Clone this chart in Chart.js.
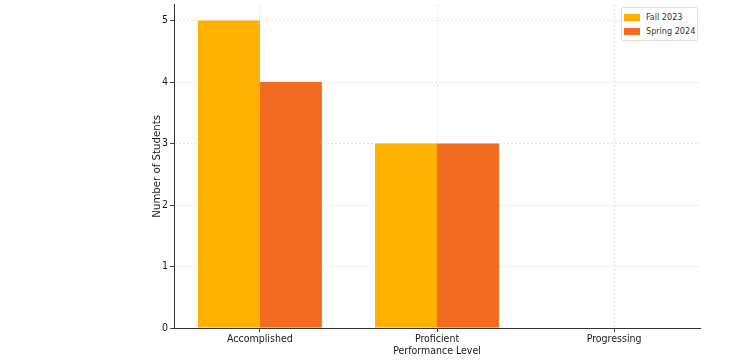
<!DOCTYPE html>
<html>
<head>
<meta charset="utf-8">
<script src="https://cdn.jsdelivr.net/npm/chart.js@4.4.1/dist/chart.umd.min.js"></script>
<style>
  body { margin: 0; background: #fff; }
  #wrap { position: relative; width: 746px; height: 360px; }
  #legend {
    position: absolute; left: 621px; top: 7px;
    border: 1px solid #ddd; border-radius: 2px; background: #fff;
    padding: 2px 2px 2px 2px;
    font: 9px "DejaVu Sans Condensed", "DejaVu Sans", sans-serif; color: #333;
  }
  #legend div { display: flex; align-items: center; height: 14px; }
  #legend span.sw { width: 16px; height: 7px; margin-right: 6px; display: inline-block; }
</style>
</head>
<body>
<div id="wrap">
  <canvas id="myChart" width="746" height="360"></canvas>
  <div id="legend"></div>
</div>
<script>
const levels = ['Accomplished', 'Proficient', 'Progressing'];
const fall2023 = [5, 3, 0];
const spring2024 = [4, 3, 0];
const seriesNames = ['Fall 2023', 'Spring 2024'];
const colors = ['#FFB000', '#F36B21'];
const yTicks = [0, 1, 2, 3, 4, 5];

const fnt = { family: '"DejaVu Sans Condensed", "DejaVu Sans", sans-serif', size: 10.5 };
const yTickFnt = { family: '"DejaVu Sans Condensed", "DejaVu Sans", sans-serif', size: 10.5, lineHeight: 0.5 };
const titleFnt = { family: '"DejaVu Sans", sans-serif', size: 10.2 };

// bars placed at the category index on a linear axis (like matplotlib)
const toPoints = (arr) => arr.map((v, i) => ({ x: i, y: v }));

const ctx = document.getElementById('myChart').getContext('2d');
const myChart = new Chart(ctx, {
  type: 'bar',
  data: {
    datasets: [
      { label: seriesNames[0], data: toPoints(fall2023), backgroundColor: colors[0] },
      { label: seriesNames[1], data: toPoints(spring2024), backgroundColor: colors[1] }
    ]
  },
  options: {
    responsive: false,
    animation: false,
    layout: { padding: { left: 147, right: 46, top: 0, bottom: 0 } },
    datasets: { bar: { categoryPercentage: 0.7, barPercentage: 1.0 } },
    plugins: { legend: { display: false }, tooltip: { enabled: false } },
    scales: {
      x: {
        type: 'linear',
        offset: false,
        min: -0.485, max: 2.485,
        afterBuildTicks: (s) => { s.ticks = levels.map((l, i) => ({ value: i })); },
        grid: { offset: false, color: '#e2e2e2', tickColor: '#444', tickLength: 4 },
        border: { color: '#333', width: 1, dash: [2, 2] },
        ticks: { color: '#1a1a1a', font: fnt, padding: 1, callback: (v) => levels[v] },
        title: { display: true, text: 'Performance Level', color: '#1a1a1a', font: fnt, padding: { top: 0, bottom: 2 } },
        afterFit: (s) => { s.height = 32; }
      },
      y: {
        min: 0, max: 5.26,
        afterBuildTicks: (s) => { s.ticks = yTicks.map(v => ({ value: v })); },
        grid: { color: '#e2e2e2', tickColor: '#444', tickLength: 4 },
        border: { color: '#333', width: 1, dash: [2, 2] },
        ticks: { color: '#1a1a1a', font: yTickFnt, padding: 2 },
        title: { display: true, text: 'Number of Students', color: '#1a1a1a', font: titleFnt, padding: { top: 4, bottom: 0 } },
        afterFit: (s) => { s.width = 27; }
      }
    }
  }
});

const legend = document.getElementById('legend');
seriesNames.forEach((name, i) => {
  const row = document.createElement('div');
  row.innerHTML = '<span class="sw" style="background:' + colors[i] + '"></span>' + name;
  legend.appendChild(row);
});
</script>
</body>
</html>
